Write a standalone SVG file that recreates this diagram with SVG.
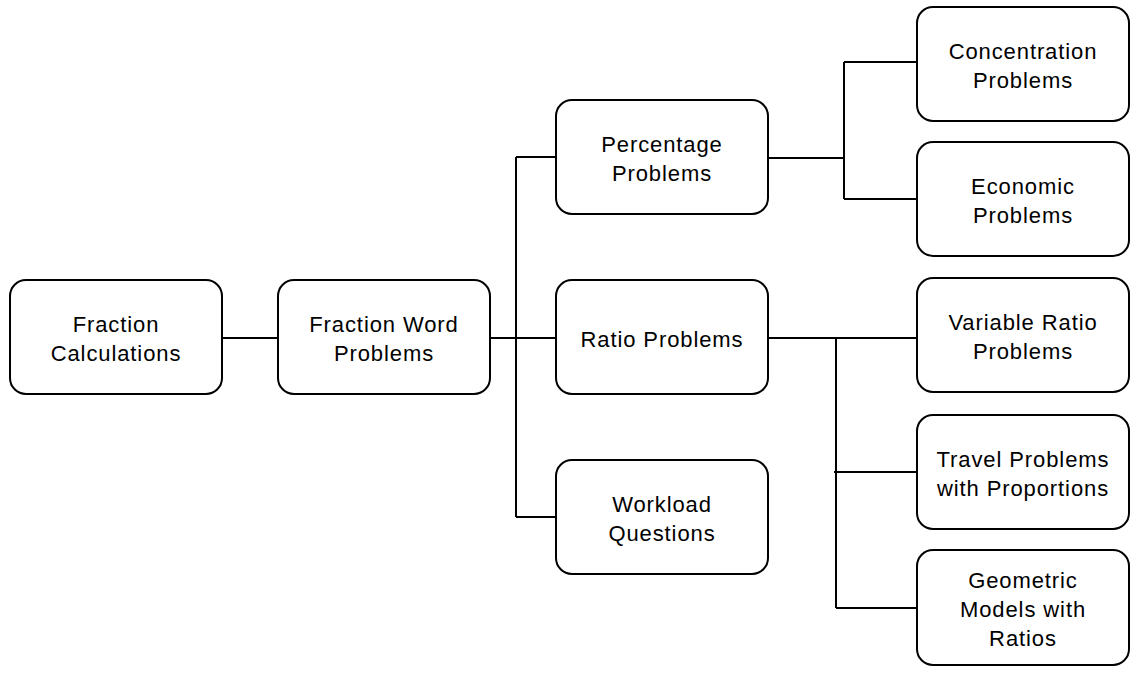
<svg xmlns="http://www.w3.org/2000/svg" width="1142" height="676" viewBox="0 0 1142 676">
<style>
.n rect{fill:#fff;stroke:#000;stroke-width:2}
.n text{font-family:"Liberation Sans",Arial,sans-serif;font-size:22px;letter-spacing:0.9px;fill:#000;text-anchor:middle}
.c path{fill:none;stroke:#000;stroke-width:2}
</style>
<rect width="1142" height="676" fill="#fff"/>
<g class="c" id="connectors">
<path d="M222 338H278"/>
<path d="M490 338H556M516 157V517M516 157H556M516 517H556"/>
<path d="M768 158H844M844 62V199M844 62H921M844 199H917"/>
<path d="M768 338H917M836 338V608M836 608H917M834 472H917"/>
</g>
<g class="n" id="fraction-calculations"><rect x="10" y="280" width="212" height="114" rx="16"/><text x="116" y="332">Fraction</text><text x="116" y="361">Calculations</text></g>
<g class="n" id="fraction-word-problems"><rect x="278" y="280" width="212" height="114" rx="16"/><text x="384" y="332">Fraction Word</text><text x="384" y="361">Problems</text></g>
<g class="n" id="percentage-problems"><rect x="556" y="100" width="212" height="114" rx="16"/><text x="662" y="152">Percentage</text><text x="662" y="181">Problems</text></g>
<g class="n" id="ratio-problems"><rect x="556" y="280" width="212" height="114" rx="16"/><text x="662" y="347">Ratio Problems</text></g>
<g class="n" id="workload-questions"><rect x="556" y="460" width="212" height="114" rx="16"/><text x="662" y="512">Workload</text><text x="662" y="541">Questions</text></g>
<g class="n" id="concentration-problems"><rect x="917" y="7" width="212" height="114" rx="16"/><text x="1023" y="59">Concentration</text><text x="1023" y="88">Problems</text></g>
<g class="n" id="economic-problems"><rect x="917" y="142" width="212" height="114" rx="16"/><text x="1023" y="194">Economic</text><text x="1023" y="223">Problems</text></g>
<g class="n" id="variable-ratio-problems"><rect x="917" y="278" width="212" height="114" rx="16"/><text x="1023" y="330">Variable Ratio</text><text x="1023" y="359">Problems</text></g>
<g class="n" id="travel-problems"><rect x="917" y="415" width="212" height="114" rx="16"/><text x="1023" y="467">Travel Problems</text><text x="1023" y="496">with Proportions</text></g>
<g class="n" id="geometric-models"><rect x="917" y="550" width="212" height="115" rx="16"/><text x="1023" y="588">Geometric</text><text x="1023" y="617">Models with</text><text x="1023" y="646">Ratios</text></g>
</svg>
